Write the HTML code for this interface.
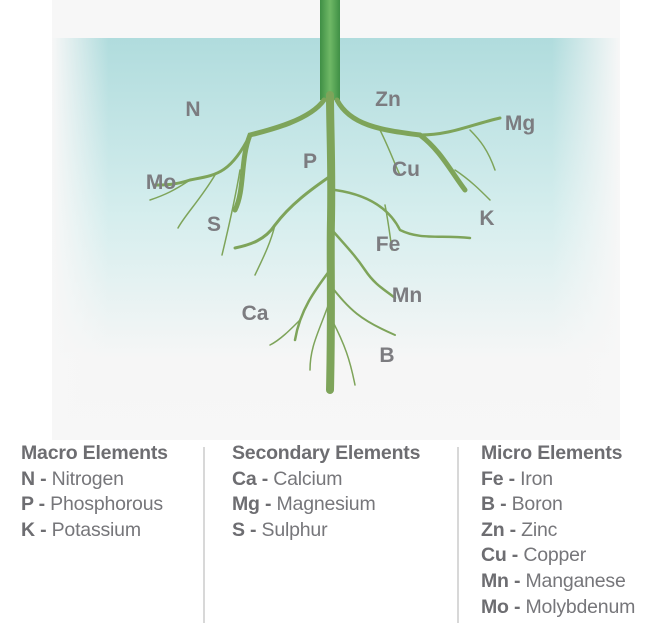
<!DOCTYPE html>
<html><head><meta charset="utf-8"><style>
body{margin:0;width:670px;height:623px;background:#fff;overflow:hidden;font-family:"Liberation Sans",sans-serif;position:relative}
.lbl{position:absolute;font-weight:bold;font-size:21px;color:#7c7c80;transform:translate(-50%,-50%)}
.col{position:absolute;top:441px;font-size:19.5px;color:#76767a;line-height:25.6px;letter-spacing:-0.2px}
.col b{color:#6d6d71}
.div{position:absolute;top:447px;width:2px;height:176px;background:#d8d8d8}
</style></head><body>
<svg width="670" height="440" style="position:absolute;left:0;top:0">
<defs>
<linearGradient id="soil" x1="0" y1="0" x2="0" y2="1"><stop offset="0" stop-color="#b0dcdd"/><stop offset="0.45" stop-color="#d6eeee"/><stop offset="0.8" stop-color="#f6f6f6"/><stop offset="1" stop-color="#f7f7f7"/></linearGradient>
<linearGradient id="edge" x1="0" y1="0" x2="1" y2="0"><stop offset="0" stop-color="#f7f7f7"/><stop offset="0.1" stop-color="#f7f7f7" stop-opacity="0"/><stop offset="0.88" stop-color="#f7f7f7" stop-opacity="0"/><stop offset="1" stop-color="#f7f7f7"/></linearGradient>
<linearGradient id="stem" x1="0" y1="0" x2="1" y2="0"><stop offset="0" stop-color="#3f8f45"/><stop offset="0.5" stop-color="#6fb866"/><stop offset="1" stop-color="#3f8f45"/></linearGradient>
</defs>
<rect x="52" y="0" width="568" height="440" fill="#f7f7f7"/>
<rect x="52" y="38" width="568" height="402" fill="url(#soil)"/>
<rect x="52" y="38" width="568" height="402" fill="url(#edge)"/>
<rect x="320" y="0" width="20" height="100" fill="url(#stem)"/>
<g fill="none" stroke="#7ea45a" stroke-linecap="round">
<path d="M330 95 C330 130 332 160 331 220 C330 260 332 300 330 390" stroke-width="8"/>
<path d="M324 100 C310 120 270 130 250 135 C240 160 245 190 235 210" stroke-width="5"/>
<path d="M250 135 C230 175 215 175 190 180 C175 185 165 185 155 185" stroke-width="3"/>
<path d="M190 180 C175 190 165 195 150 200" stroke-width="1.5"/>
<path d="M215 175 C200 200 185 215 178 228" stroke-width="1.5"/>
<path d="M240 170 C235 200 228 230 222 255" stroke-width="1.5"/>
<path d="M337 100 C350 125 380 130 420 135 C440 150 450 170 465 190" stroke-width="5"/>
<path d="M420 135 C450 135 470 125 500 118" stroke-width="3"/>
<path d="M470 130 C480 140 488 150 495 170" stroke-width="1.5"/>
<path d="M380 130 C390 150 395 165 400 175" stroke-width="1.5"/>
<path d="M455 170 C470 180 480 190 490 200" stroke-width="1.5"/>
<path d="M332 175 C310 190 290 205 275 225 C265 240 250 245 235 248" stroke-width="3"/>
<path d="M275 225 C270 245 262 260 255 275" stroke-width="1.5"/>
<path d="M335 190 C370 195 390 210 400 230 C420 240 440 235 470 238" stroke-width="2.5"/>
<path d="M385 205 C388 220 390 235 392 250" stroke-width="1.5"/>
<path d="M332 230 C345 245 355 255 365 270 C375 285 385 290 395 298" stroke-width="2.5"/>
<path d="M330 270 C315 290 300 310 295 340" stroke-width="2.5"/>
<path d="M330 285 C350 310 360 320 395 335" stroke-width="2"/>
<path d="M330 300 C320 330 310 345 310 370" stroke-width="1.5"/>
<path d="M332 320 C345 345 350 360 355 385" stroke-width="1.5"/>
<path d="M300 320 C290 330 280 340 270 345" stroke-width="1.5"/>
</g>
</svg>
<div class="lbl" style="left:193px;top:110px">N</div>
<div class="lbl" style="left:388px;top:100px">Zn</div>
<div class="lbl" style="left:520px;top:124px">Mg</div>
<div class="lbl" style="left:161px;top:183px">Mo</div>
<div class="lbl" style="left:310px;top:162px">P</div>
<div class="lbl" style="left:406px;top:170px">Cu</div>
<div class="lbl" style="left:487px;top:219px">K</div>
<div class="lbl" style="left:214px;top:225px">S</div>
<div class="lbl" style="left:388px;top:245px">Fe</div>
<div class="lbl" style="left:407px;top:296px">Mn</div>
<div class="lbl" style="left:255px;top:314px">Ca</div>
<div class="lbl" style="left:387px;top:356px">B</div>
<div class="div" style="left:203px"></div>
<div class="div" style="left:457px"></div>
<div class="col" style="left:21px"><b>Macro Elements</b><br><b>N -</b> Nitrogen<br><b>P -</b> Phosphorous<br><b>K -</b> Potassium</div>
<div class="col" style="left:232px"><b>Secondary Elements</b><br><b>Ca -</b> Calcium<br><b>Mg -</b> Magnesium<br><b>S -</b> Sulphur</div>
<div class="col" style="left:481px"><b>Micro Elements</b><br><b>Fe -</b> Iron<br><b>B -</b> Boron<br><b>Zn -</b> Zinc<br><b>Cu -</b> Copper<br><b>Mn -</b> Manganese<br><b>Mo -</b> Molybdenum</div>
</body></html>
